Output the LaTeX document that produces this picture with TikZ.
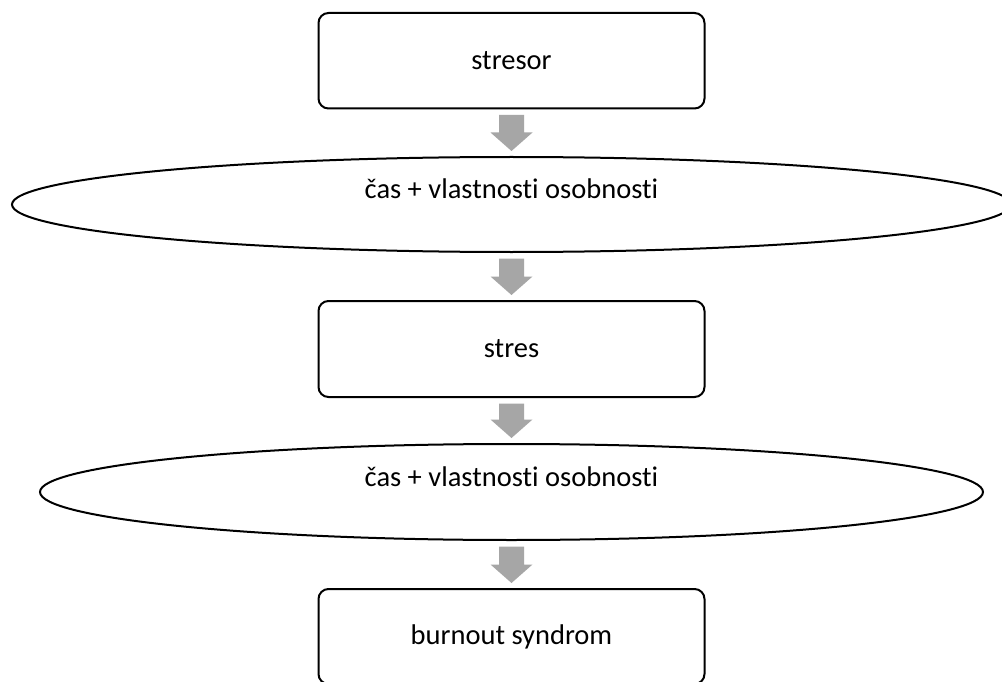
\documentclass[tikz,border=0pt]{standalone}
\usepackage{fontspec}
\setmainfont{Carlito}[Ligatures=NoCommon]
\usetikzlibrary{shapes.geometric,calc}
\definecolor{arrowgray}{RGB}{166,166,166}
\tikzset{
  stepbox/.style={draw=black, line width=2pt, rounded corners=10pt, fill=white,
    minimum width=386pt, inner sep=0pt, outer sep=0pt, align=center,
    font=\fontsize{28.5}{34}\selectfont},
  factor/.style={draw=black, ellipse, line width=2pt, fill=white,
    inner sep=0pt, outer sep=0pt},
  factortext/.style={inner sep=0pt, font=\fontsize{28.5}{34}\selectfont},
  blockarrow/.style={fill=arrowgray, draw=none}
}
\newcommand\garrow[2]{%
  \fill[blockarrow]
    ($(#1.south)+(-12.5,6.5)$) -- ($(#1.south)+(12.5,6.5)$) --
    ($(#2.north)+(12.5,-24.5)$) -- ($(#2.north)+(21,-24.5)$) --
    ($(#2.north)+(0,-6)$) --
    ($(#2.north)+(-21,-24.5)$) -- ($(#2.north)+(-12.5,-24.5)$) -- cycle;}
\begin{document}
\begin{tikzpicture}[x=1pt,y=-1pt]
  \clip (0,0) rectangle (1002,682);
  \fill[white] (0,0) rectangle (1002,682);
  \node[stepbox, minimum height=95.5pt] (b1) at (511.5,60.75) {stresor};
  \node[factor, minimum width=999pt, minimum height=95pt] (e1) at (511.5,204.5) {};
  \node[factortext] (t1) at ($(e1.center)+(0,-16)$) {čas + vlastnosti osobnosti};
  \node[stepbox, minimum height=96pt] (b2) at (511.5,349) {stres};
  \node[factor, minimum width=943pt, minimum height=96pt] (e2) at (511.5,492) {};
  \node[factortext] (t2) at ($(e2.center)+(0,-15)$) {čas + vlastnosti osobnosti};
  \node[stepbox, minimum height=95pt] (b3) at (511.5,636.5) {burnout syndrom};
  \garrow{b1}{e1}
  \garrow{e1}{b2}
  \garrow{b2}{e2}
  \garrow{e2}{b3}
\end{tikzpicture}
\end{document}
